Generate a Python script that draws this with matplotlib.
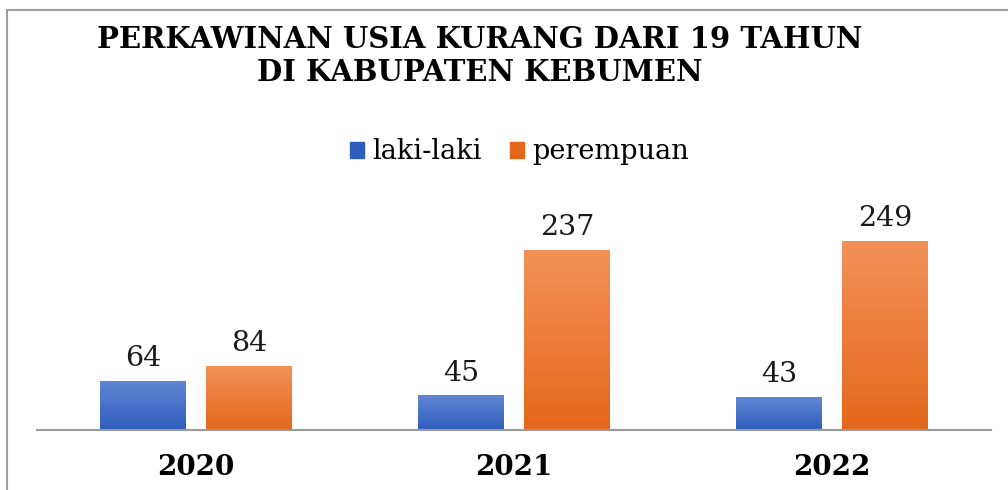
import numpy as np
import matplotlib
matplotlib.use("Agg")
import matplotlib.pyplot as plt
from matplotlib.colors import LinearSegmentedColormap
from matplotlib.patches import Rectangle

years = ["2020", "2021", "2022"]
laki = [64, 45, 43]
perempuan = [84, 237, 249]
series_names = ["laki-laki", "perempuan"]

blue_top, blue_bot = "#6186D2", "#2F5DBE"
orange_top, orange_bot = "#F39159", "#E4681B"

fig = plt.figure(figsize=(10.08, 4.9), dpi=100)
ax = fig.add_axes([0.0367, 0.1224, 0.9464, 0.4647])

x = np.arange(len(years))
w = 0.27
off = 0.166


def grad_bar(xc, h, top, bot):
    cmap = LinearSegmentedColormap.from_list("g", [bot, top])
    grad = np.linspace(0, 1, 256).reshape(-1, 1)
    ax.imshow(grad, cmap=cmap, origin="lower", aspect="auto",
              extent=[xc - w / 2, xc + w / 2, 0, h], zorder=2)
    ax.text(xc, h + 12, str(h), ha="center", va="bottom",
            fontsize=20.5, family="DejaVu Serif", color="#1a1a1a")


for i in range(len(years)):
    grad_bar(x[i] - off, laki[i], blue_top, blue_bot)
    grad_bar(x[i] + off, perempuan[i], orange_top, orange_bot)

ax.set_xlim(-0.5, 2.5)
ax.set_ylim(0, 300)
for s in ["top", "right", "left"]:
    ax.spines[s].set_visible(False)
ax.spines["bottom"].set_color("#9a9a9a")
ax.spines["bottom"].set_linewidth(1.5)
ax.set_yticks([])
ax.set_xticks(x)
ax.set_xticklabels(years, fontsize=20, fontweight="bold", family="DejaVu Serif")
ax.tick_params(axis="x", length=0, pad=17)

fig.text(0.476, 0.886, "PERKAWINAN USIA KURANG DARI 19 TAHUN\nDI KABUPATEN KEBUMEN",
         ha="center", va="center", fontsize=21, fontweight="bold",
         family="DejaVu Serif", linespacing=1.2)

handles = [Rectangle((0, 0), 1, 1, color=blue_bot),
           Rectangle((0, 0), 1, 1, color=orange_bot)]
fig.legend(handles, series_names, loc="center", bbox_to_anchor=(0.515, 0.69),
           ncol=2, frameon=False, prop={"family": "DejaVu Serif", "size": 19.5},
           handlelength=0.52, handleheight=0.52, handletextpad=0.3, columnspacing=1.05)

fig.add_artist(plt.Line2D([0.007, 0.007], [0, 0.98], color="#a0a0a0", lw=1.5,
                          transform=fig.transFigure))
fig.add_artist(plt.Line2D([0.007, 1.0], [0.98, 0.98], color="#a0a0a0", lw=1.5,
                          transform=fig.transFigure))

fig.savefig("out.png", dpi=100)
